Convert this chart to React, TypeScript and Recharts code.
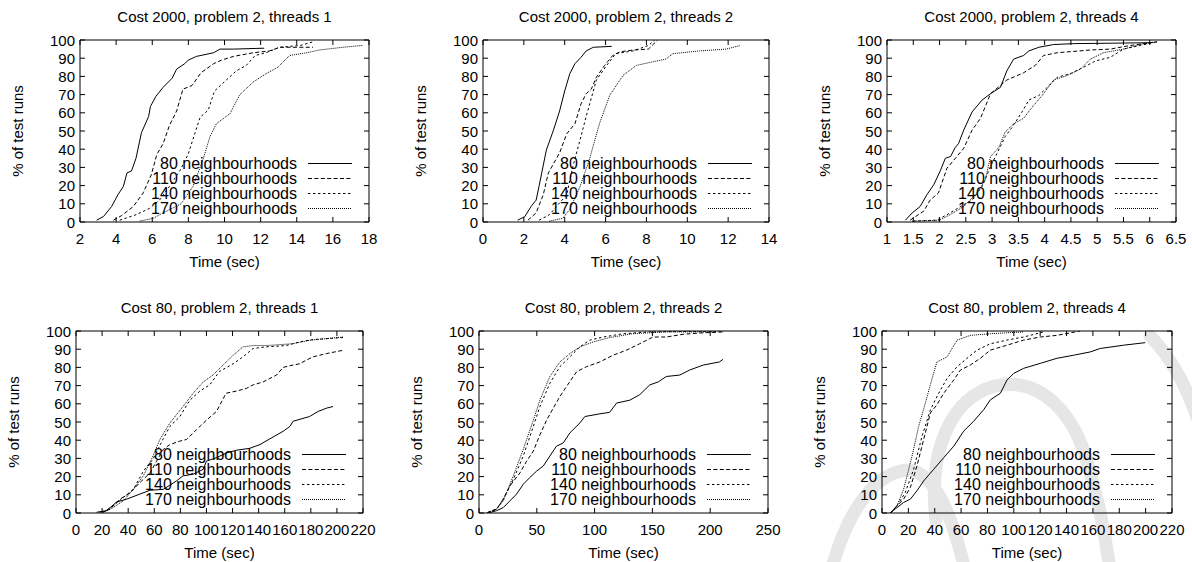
import React from "react";
import { LineChart, Line, XAxis, YAxis, Legend, ReferenceArea } from "recharts";

type Pt = [number, number];

const NAMES = ["80 neighbourhoods", "110 neighbourhoods", "140 neighbourhoods", "170 neighbourhoods"];
const DASH = ["", "4 2.4", "2.4 2.6", "1 1"];
const PCT_TICKS = [0, 10, 20, 30, 40, 50, 60, 70, 80, 90, 100];

// x ticks for each panel
const X_C2000_T1 = [2, 4, 6, 8, 10, 12, 14, 16, 18];
const X_C2000_T2 = [0, 2, 4, 6, 8, 10, 12, 14];
const X_C2000_T4 = [1, 1.5, 2, 2.5, 3, 3.5, 4, 4.5, 5, 5.5, 6, 6.5];
const X_C80_T1 = [0, 20, 40, 60, 80, 100, 120, 140, 160, 180, 200, 220];
const X_C80_T2 = [0, 50, 100, 150, 200, 250];
const X_C80_T4 = [0, 20, 40, 60, 80, 100, 120, 140, 160, 180, 200, 220];

// Cost 2000, threads 1  [time, % of runs]
const c2000t1_80: Pt[] = [[2.92, 1], [3.3, 3], [3.75, 8.5], [4.1, 15], [4.4, 19.5], [4.6, 27], [4.85, 28], [5.1, 35], [5.4, 49], [5.8, 58], [5.9, 63.5], [6.2, 69], [6.6, 74], [7.1, 79], [7.35, 84], [7.8, 87], [8.0, 89], [8.45, 91], [9.4, 93], [9.75, 95], [10.5, 95], [12.2, 95.5]];
const c2000t1_110: Pt[] = [[3.85, 1], [4.3, 3.5], [4.95, 8.5], [5.5, 16], [5.95, 26], [6.25, 37], [6.6, 43], [6.95, 53], [7.35, 61], [7.7, 73], [8.2, 75], [8.7, 82], [9.4, 87], [9.85, 89], [10.5, 91], [11.6, 93], [12.5, 94], [13.05, 96], [14.9, 96]];
const c2000t1_140: Pt[] = [[4.2, 1], [5.1, 4], [5.85, 7.5], [6.4, 12], [6.95, 19.5], [7.55, 28.5], [8.0, 37.5], [8.35, 48.5], [8.65, 57.5], [9.1, 61.5], [9.45, 72], [10.1, 78], [10.65, 83], [11.2, 86], [11.7, 91.5], [12.3, 93], [13.05, 96], [14.2, 97], [14.9, 99]];
const c2000t1_170: Pt[] = [[5.3, 0.5], [6.05, 2], [6.6, 5], [7.6, 10], [8.25, 19.5], [8.8, 34], [9.2, 47], [9.55, 54], [10.3, 59.5], [10.85, 70], [11.6, 77], [12.3, 81.5], [12.95, 85], [13.6, 91.5], [14.55, 93], [15.25, 94.5], [16.55, 96], [17.65, 97]];

// Cost 2000, threads 2
const c2000t2_80: Pt[] = [[1.7, 1], [2.05, 3], [2.35, 8.5], [2.6, 12], [2.75, 20], [3.1, 39.5], [3.45, 50.5], [3.75, 61], [4.0, 72], [4.25, 81.5], [4.5, 87], [4.8, 90.5], [5.05, 94], [5.4, 96], [6.3, 96.5]];
const c2000t2_110: Pt[] = [[2.2, 1], [2.6, 5], [2.95, 15], [3.2, 27], [3.75, 38], [4.1, 48.5], [4.5, 54], [4.8, 65], [5.05, 70.5], [5.3, 73], [5.55, 79.5], [5.95, 86], [6.35, 91.5], [6.7, 93.5], [7.35, 94.5], [8.1, 95], [8.55, 100]];
const c2000t2_140: Pt[] = [[2.75, 1], [3.25, 4], [3.75, 10.5], [4.1, 15], [4.4, 30.5], [4.75, 45], [5.05, 58], [5.55, 78], [6.05, 86], [6.5, 92.5], [7.35, 94], [8.1, 97], [8.4, 100]];
const c2000t2_170: Pt[] = [[3.25, 0.5], [3.9, 2], [4.25, 7], [4.75, 19.5], [5.2, 34], [5.7, 54], [6.2, 69.5], [6.85, 80.5], [7.5, 86], [8.3, 88], [8.95, 89.5], [9.3, 92.5], [10.6, 94], [11.9, 95], [12.6, 97]];

// Cost 2000, threads 4
const c2000t4_80: Pt[] = [[1.35, 1], [1.48, 5], [1.63, 8.5], [1.76, 15], [1.89, 20.5], [2.02, 28.5], [2.11, 35], [2.21, 36], [2.3, 41], [2.36, 43], [2.46, 50.5], [2.62, 60.5], [2.81, 67], [2.97, 70.5], [3.16, 74], [3.28, 83], [3.41, 89.5], [3.6, 91.5], [3.7, 94], [3.89, 96], [4.17, 97.5], [4.55, 98], [6.0, 98.5]];
const c2000t4_110: Pt[] = [[1.44, 1], [1.7, 6], [1.82, 12], [1.98, 16], [2.14, 29.5], [2.3, 35], [2.46, 40.5], [2.62, 50.5], [2.78, 57], [2.97, 70.5], [3.28, 78], [3.6, 82], [3.82, 86], [3.98, 91.5], [4.24, 93], [4.87, 94.5], [5.25, 95], [5.63, 97], [6.14, 99]];
const c2000t4_140: Pt[] = [[1.5, 0.5], [1.95, 1], [2.2, 5], [2.46, 9.5], [2.62, 12], [2.81, 19.5], [2.97, 30.5], [3.09, 37.5], [3.25, 47], [3.38, 52], [3.57, 60.5], [3.7, 67], [3.89, 69.5], [4.05, 74], [4.24, 79.5], [4.49, 81.5], [4.74, 85], [4.97, 88.5], [5.25, 90.5], [5.5, 95], [5.82, 97], [6.14, 99]];
const c2000t4_170: Pt[] = [[1.48, 0.5], [2.0, 1], [2.2, 4], [2.46, 8.5], [2.71, 16], [2.87, 23], [2.97, 36], [3.13, 41], [3.25, 49.5], [3.41, 54], [3.6, 57], [3.76, 63], [3.98, 70.5], [4.17, 78], [4.43, 80.5], [4.68, 84], [4.87, 89.5], [5.12, 93], [5.5, 95], [5.88, 98], [6.14, 99]];

// Cost 80, threads 1
const c80t1_80: Pt[] = [[15.8, 0.4], [23.5, 1.3], [31, 6], [38.8, 7.6], [49, 10.4], [56.7, 12.5], [66.9, 13], [72, 15.3], [77, 17.6], [82, 20.4], [89.8, 21.3], [97.5, 24], [100, 28.5], [107.7, 30.4], [115.3, 33], [123, 34.5], [133, 35.5], [141, 37.6], [148.5, 40.7], [159, 45], [164, 47.6], [166.4, 50.4], [179, 53], [185.6, 55.8], [192, 57.6], [197, 58.5]];
const c80t1_110: Pt[] = [[18.4, 0.4], [26, 2], [33.7, 7.6], [41.3, 11], [49, 16.7], [56.7, 22], [61.8, 28.5], [67, 35], [72, 37.6], [79.6, 39.5], [84.7, 40.4], [92.4, 45.8], [100, 51], [107.7, 55.8], [115, 65.8], [123, 67], [130.7, 68.5], [135.8, 70.4], [143.4, 72], [153.7, 75.8], [158.8, 80], [166.4, 81.3], [171.5, 82], [176.6, 84], [181.7, 85.8], [192, 87.6], [204.7, 89.4]];
const c80t1_140: Pt[] = [[21, 0.4], [28.6, 4], [36.2, 8.5], [44, 13], [51.6, 23], [59, 29.5], [67, 41], [72, 47.6], [79.6, 53], [87.3, 62], [95, 67], [102.5, 70.4], [110, 77.8], [120.5, 82], [128, 85.8], [135.8, 90.4], [146, 91.3], [161, 92], [171.5, 94], [181.7, 95.3], [204.7, 96.4]];
const c80t1_170: Pt[] = [[21, 0.4], [28.6, 3], [36.2, 6.7], [44, 13], [51.6, 20.4], [59, 31.3], [64.3, 40.4], [72, 49.5], [82, 58.5], [89.8, 65.8], [97.5, 72], [105, 75.8], [112.8, 81.3], [120.5, 86.7], [128, 91.3], [135.8, 92], [146, 92], [166, 93], [179, 94.9], [192, 95.8], [204.7, 96.7]];

// Cost 80, threads 2
const c80t2_80: Pt[] = [[8, 0], [15.3, 1.3], [21, 3], [26.8, 6.7], [32.5, 10.4], [38.3, 15.8], [44, 19.5], [49.8, 23], [55.6, 25.8], [61.3, 31.3], [67, 36.7], [72.9, 38.5], [78.6, 44], [87.3, 49.5], [91.6, 53], [104.6, 54.5], [113, 55.3], [119, 60.4], [130.5, 62], [139, 65], [147.8, 70.4], [155, 72], [162, 75], [173.7, 75.8], [182, 78.5], [194, 81.3], [208, 83], [211, 84.4]];
const c80t2_110: Pt[] = [[6.6, 0], [15.3, 2.2], [21, 7.6], [26.8, 15], [35.4, 22], [41.2, 28.5], [47, 34], [52.7, 43], [58.5, 51], [64.2, 57.6], [70, 64], [75.7, 69.5], [84.4, 77.6], [93, 80.4], [104.5, 83], [116, 86.7], [127.6, 89.5], [139, 93], [150.6, 96.7], [162, 96.7], [176.5, 98.2], [191, 98.9], [212, 99.5]];
const c80t2_140: Pt[] = [[8, 0.4], [15.3, 2.2], [21, 7.6], [29.7, 18.5], [38.3, 31.3], [47, 47.6], [52.7, 58.5], [61.3, 71.3], [70, 80.4], [78.6, 85.8], [87.3, 91.3], [95.8, 95], [107.5, 96.7], [124.6, 98.5], [147.8, 99.5], [212, 100]];
const c80t2_170: Pt[] = [[8, 0.4], [15.3, 2.2], [21, 6.7], [29.7, 20.4], [38.3, 35], [47, 51], [52.7, 62], [61.3, 75], [70, 83], [78.6, 87.6], [87.3, 91.3], [98.8, 94], [113, 96.4], [133, 98.5], [162, 99.5], [205, 99.5]];

// Cost 80, threads 4
const c80t4_80: Pt[] = [[6.3, 0], [10, 2.2], [16.4, 5.8], [21.5, 7.6], [26.5, 12.2], [31.6, 17.6], [39.2, 24], [46.8, 30.4], [54.4, 36.7], [62, 45], [69.5, 50.4], [77.1, 56.7], [82.2, 62.2], [89.8, 65.8], [94.8, 73], [99.9, 76.7], [107.5, 79.5], [120, 82.2], [132.7, 85], [145.4, 86.7], [158, 88.5], [165.6, 90.4], [183.3, 92.2], [199.7, 93.6]];
const c80t4_110: Pt[] = [[6.3, 0], [11.4, 4], [16.4, 7.6], [21.5, 14], [26.5, 25.8], [31.6, 40.4], [36.7, 55], [41.7, 59.5], [46.8, 65.8], [54.4, 73], [59.4, 78.5], [67, 81.3], [74.6, 85], [82.2, 89.5], [94.8, 92.2], [107.5, 95], [120, 96.7], [132.7, 97.6], [150.4, 100]];
const c80t4_140: Pt[] = [[6.3, 0], [11.4, 4], [17.7, 11.3], [24, 24], [30.3, 42], [36.7, 56.7], [43, 65.8], [49.4, 74], [57, 80.4], [64.5, 85], [72.1, 89.5], [82.2, 93], [94.8, 95], [107.5, 96.7], [122.6, 99.5]];
const c80t4_170: Pt[] = [[6.3, 0], [11.4, 4], [16.4, 13], [22.8, 31.3], [27.8, 47.6], [32.9, 60.4], [38, 74], [41.7, 83], [49.4, 85.8], [57, 95], [67, 97.6], [82.2, 98.5], [107.5, 99.5]];

const FONT = "'Liberation Sans', Arial, Helvetica, sans-serif";

// box = [left, top, width, height], plot = [left, right, top, bottom] in page pixels
const PANELS = [
  { title: "Cost 2000, problem 2, threads 1", ticks: X_C2000_T1, series: [c2000t1_80, c2000t1_110, c2000t1_140, c2000t1_170], box: [0, 0, 400, 280], plot: [80, 369, 40, 222] },
  { title: "Cost 2000, problem 2, threads 2", ticks: X_C2000_T2, series: [c2000t2_80, c2000t2_110, c2000t2_140, c2000t2_170], box: [400, 0, 390, 280], plot: [483, 769, 40, 222] },
  { title: "Cost 2000, problem 2, threads 4", ticks: X_C2000_T4, series: [c2000t4_80, c2000t4_110, c2000t4_140, c2000t4_170], box: [790, 0, 402, 280], plot: [887, 1176, 40, 222] },
  { title: "Cost 80, problem 2, threads 1", ticks: X_C80_T1, series: [c80t1_80, c80t1_110, c80t1_140, c80t1_170], box: [0, 280, 400, 282], plot: [76, 363, 331, 513] },
  { title: "Cost 80, problem 2, threads 2", ticks: X_C80_T2, series: [c80t2_80, c80t2_110, c80t2_140, c80t2_170], box: [400, 280, 390, 282], plot: [479, 768, 331, 513] },
  { title: "Cost 80, problem 2, threads 4", ticks: X_C80_T4, series: [c80t4_80, c80t4_110, c80t4_140, c80t4_170], box: [790, 280, 402, 282], plot: [882, 1172, 331, 513] },
];

const YW = 40;
const XH = 30;

function Panel({ p }: { p: (typeof PANELS)[number] }) {
  const [bl, bt, bw, bh] = p.box;
  const [pl, pr, pt, pb] = p.plot;
  const L = pl - bl, R = pr - bl, T = pt - bt, B = pb - bt;
  const xMin = p.ticks[0];
  const xMax = p.ticks[p.ticks.length - 1];

  const xTick = (props: any) => (
    <g>
      <line x1={props.x} x2={props.x} y1={B} y2={B - 5} stroke="#000" />
      <line x1={props.x} x2={props.x} y1={T} y2={T + 5} stroke="#000" />
      <text x={props.x} y={B + 16} textAnchor="middle" dominantBaseline="central" fontSize={15} fontFamily={FONT} fill="#000">
        {props.payload.value}
      </text>
    </g>
  );
  const yTick = (props: any) => (
    <g>
      <line x1={L} x2={L + 5} y1={props.y} y2={props.y} stroke="#000" />
      <line x1={R - 5} x2={R} y1={props.y} y2={props.y} stroke="#000" />
      <text x={L - 5} y={props.y} textAnchor="end" dominantBaseline="central" fontSize={15} fontFamily={FONT} fill="#000">
        {props.payload.value}
      </text>
    </g>
  );

  return (
    <div style={{ position: "absolute", left: bl, top: bt, width: bw, height: bh }}>
      <div style={{ position: "absolute", left: (L + R) / 2, top: T - 24, transform: "translate(-50%, -50%)", whiteSpace: "nowrap", fontFamily: FONT, fontSize: 15 }}>
        {p.title}
      </div>
      <div style={{ position: "absolute", left: (L + R) / 2, top: B + 38.5, transform: "translate(-50%, -50%)", whiteSpace: "nowrap", fontFamily: FONT, fontSize: 15 }}>
        Time (sec)
      </div>
      <div style={{ position: "absolute", left: L - 63, top: (T + B) / 2, transform: "translate(-50%, -50%) rotate(-90deg)", whiteSpace: "nowrap", fontFamily: FONT, fontSize: 15 }}>
        % of test runs
      </div>
      <LineChart width={bw} height={bh} margin={{ left: L - YW, right: bw - R, top: T, bottom: bh - B - XH }}>
        <XAxis type="number" dataKey="t" domain={[xMin, xMax]} ticks={p.ticks} interval={0} allowDataOverflow axisLine={false} tickLine={false} height={XH} tick={xTick} />
        <YAxis type="number" domain={[0, 100]} ticks={PCT_TICKS} interval={0} allowDataOverflow axisLine={false} tickLine={false} width={YW} tick={yTick} />
        <ReferenceArea x1={xMin} x2={xMax} y1={0} y2={100} fill="none" fillOpacity={0} stroke="#000" strokeWidth={1} ifOverflow="visible" />
        {p.series.map((s, i) => (
          <Line
            key={NAMES[i]}
            data={s.map(([t, v]) => ({ t, p: v }))}
            dataKey="p"
            name={NAMES[i]}
            type="linear"
            stroke="#000"
            strokeWidth={1}
            strokeDasharray={DASH[i] || undefined}
            dot={false}
            activeDot={false}
            isAnimationActive={false}
          />
        ))}
        <Legend
          layout="vertical"
          align="center"
          verticalAlign="middle"
          wrapperStyle={{ left: R - 17 - 240, top: B - 66.5, width: 240 }}
          content={() => (
            <div style={{ width: 240, fontFamily: FONT, fontSize: 16 }}>
              {NAMES.map((n, i) => (
                <div key={n} style={{ display: "flex", alignItems: "center", height: 15 }}>
                  <span style={{ flex: 1, textAlign: "right", lineHeight: "15px", whiteSpace: "nowrap" }}>{n}</span>
                  <svg width={44} height={15} style={{ marginLeft: 11, display: "block" }}>
                    <line x1={0} x2={44} y1={7.5} y2={7.5} stroke="#000" strokeWidth={1} strokeDasharray={DASH[i] || undefined} />
                  </svg>
                </div>
              ))}
            </div>
          )}
        />
      </LineChart>
    </div>
  );
}

export default function App() {
  return (
    <div style={{ position: "absolute", left: 0, top: 0, width: 1192, height: 562, background: "#fff", overflow: "hidden" }}>
      {/* faint watermark behind the lower right plot */}
      <svg width={1192} height={562} style={{ position: "absolute", left: 0, top: 0 }}>
        <g fill="none" stroke="#e6e6e6" strokeWidth={13} strokeLinecap="round">
          <path d="M 936 520 C 928 452 950 398 995 386 C 1042 376 1075 415 1088 465 C 1100 505 1106 540 1110 570" />
          <path d="M 830 575 C 848 505 878 472 908 470 C 935 472 952 515 965 570" />
          <path d="M 1150 336 C 1170 356 1186 385 1198 420" />
        </g>
      </svg>
      {PANELS.map((p) => (
        <Panel key={p.title} p={p} />
      ))}
    </div>
  );
}
